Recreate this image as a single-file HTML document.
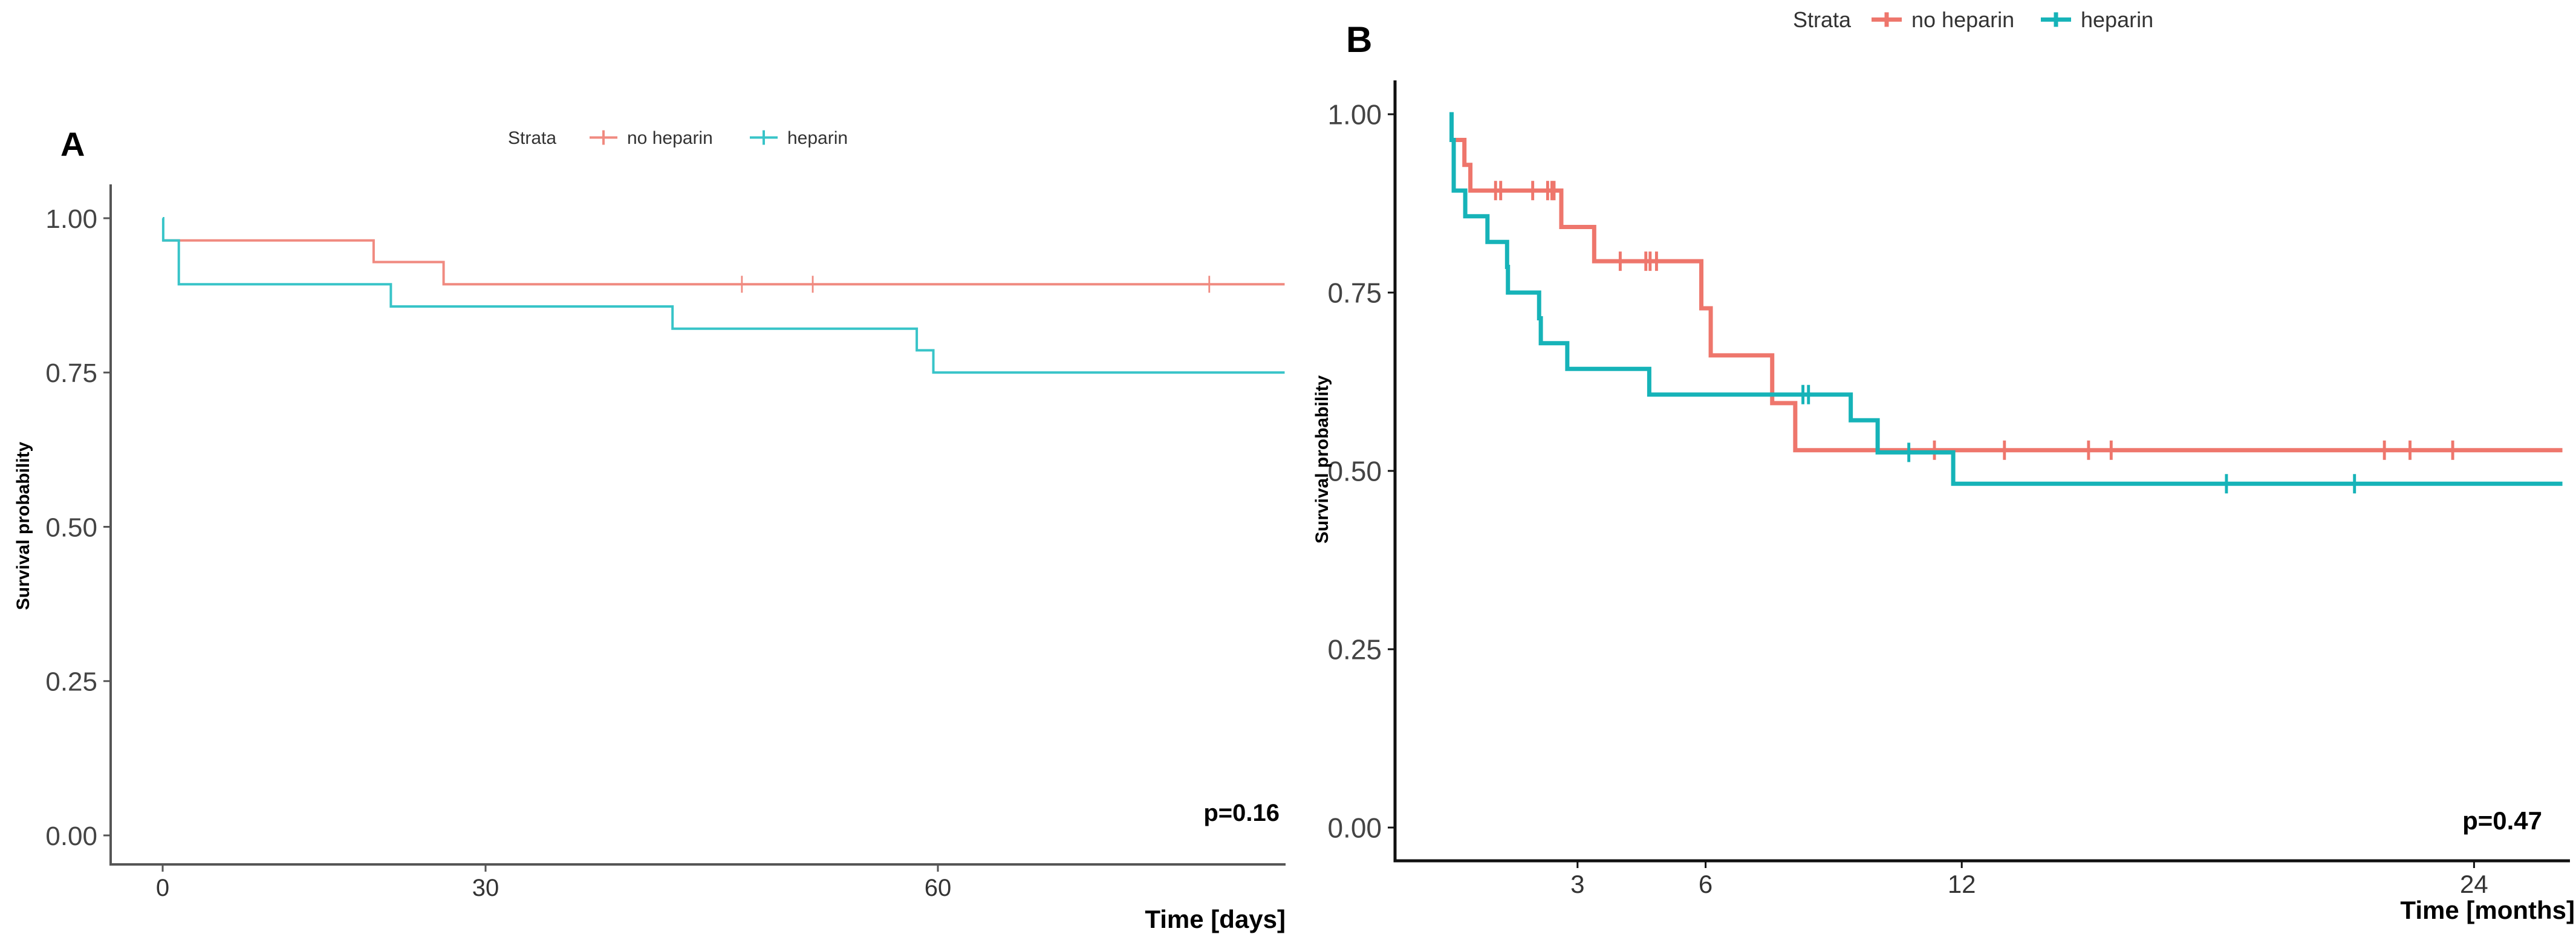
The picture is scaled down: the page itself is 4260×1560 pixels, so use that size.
<!DOCTYPE html>
<html><head><meta charset="utf-8"><style>
html,body{margin:0;padding:0;background:#fff;width:4260px;height:1560px;overflow:hidden}
svg{display:block}
text{font-family:"Liberation Sans Narrow","Liberation Sans",sans-serif}
</style></head><body>
<svg id="chart" width="4260" height="1560" viewBox="0 0 4260 1560" xmlns="http://www.w3.org/2000/svg">
<g id="panelA"></g>
<g id="panelB"></g>
</svg>
<script>
// ---- Panel A data (days) ----
const aTicksX = [0, 30, 60];
const aTicksY = [0, 0.25, 0.5, 0.75, 1.0];
const aTickLabelsY = ["0.00", "0.25", "0.50", "0.75", "1.00"];
const aNoHepTimes = [19.6, 26.1];
const aNoHepSurv = [0.929, 0.893];
const aNoHepCensor = [47.0, 51.7, 78.0];
const aHepTimes = [0.05, 1.5, 21.2, 42.4, 58.6, 59.7];
const aHepSurv = [0.964, 0.893, 0.857, 0.821, 0.786, 0.75];
const aHepCensor = [];
const aStart = [0.964, 1.0];
const aEnd = 83;
// ---- Panel B data (months) ----
const bTicksX = [3, 6, 12, 24];
const bTicksY = [0, 0.25, 0.5, 0.75, 1.0];
const bTickLabelsY = ["0.00", "0.25", "0.50", "0.75", "1.00"];
const bNoHepTimes = [0.35, 0.49, 2.62, 3.39, 5.9, 6.12, 7.56, 8.1];
const bNoHepSurv = [0.929, 0.893, 0.842, 0.794, 0.728, 0.662, 0.595, 0.529];
const bNoHepCensor = [1.08, 1.2, 1.95, 2.3, 2.4, 2.45, 4.0, 4.6, 4.7, 4.85, 11.36, 13.0, 14.97, 15.5, 21.9, 22.5, 23.5];
const bHepTimes = [0.05, 0.1, 0.37, 0.89, 1.35, 1.37, 2.1, 2.14, 2.76, 4.68, 9.4, 10.03, 11.8];
const bHepSurv = [0.964, 0.893, 0.857, 0.821, 0.786, 0.75, 0.714, 0.679, 0.643, 0.607, 0.571, 0.526, 0.482];
const bHepCensor = [8.28, 8.41, 10.76, 18.2, 21.2];
const bStart = [0.964, 1.0];
const bEnd = 26.07;

const NS = "http://www.w3.org/2000/svg";
function mk(parent, tag, attrs, txt){
  const e = document.createElementNS(NS, tag);
  for (const k in attrs) e.setAttribute(k, attrs[k]);
  if (txt !== undefined) e.textContent = txt;
  parent.appendChild(e);
  return e;
}
// axis scales
function axA(t){ return t <= 30 ? 269 + t*(803-269)/30 : 803 + (t-30)*(1551-803)/30; }
function ayA(s){ return 1382 - s*1021; }
function axB(t){ return 2397 + t*70.6; }
function ayB(s){ return 1369 - s*1180; }

function stepPath(times, surv, s0, end, sx, sy){
  let d = "M" + sx(0) + "," + sy(s0);
  let cur = s0;
  for (let i=0;i<times.length;i++){
    d += " H" + sx(times[i]) + " V" + sy(surv[i]);
    cur = surv[i];
  }
  d += " H" + sx(end);
  return d;
}
function survAt(t, times, surv, s0){
  let s = s0;
  for (let i=0;i<times.length;i++) if (times[i] <= t) s = surv[i];
  return s;
}

function drawPanel(g, cfg){
  // axes
  const ax = mk(g,'path',{d:`M${cfg.axX},${cfg.axTop} V${cfg.axY} H${cfg.axRight}`,fill:'none',stroke:cfg.axCol,'stroke-width':cfg.axW});
  
  
  cfg.ticksY.forEach((v,i)=>{
    const y = cfg.sy(v);
    const tk = mk(g,'line',{x1:cfg.axX-12,x2:cfg.axX,y1:y,y2:y,stroke:cfg.axCol,'stroke-width':3});
    
    
    const lb = mk(g,'text',{x:cfg.axX-22,y:y+cfg.yFs*0.36,'text-anchor':'end','font-size':cfg.yFs,fill:'#444'},cfg.tickLabelsY[i]);
    
    
  });
  cfg.ticksX.forEach(v=>{
    const x = cfg.sx(v);
    const tk = mk(g,'line',{x1:x,x2:x,y1:cfg.axY,y2:cfg.axY+12,stroke:cfg.axCol,'stroke-width':3});
    
    
    const lb = mk(g,'text',{x:x,y:cfg.xLabY,'text-anchor':'middle','font-size':cfg.xFs,fill:'#333'},String(v));
    
    
  });
  // series
  const series = [
    {name:'no-heparin', col:cfg.red, times:cfg.nhT, surv:cfg.nhS, cens:cfg.nhC, s0:cfg.start[0]},
    {name:'heparin', col:cfg.teal, times:cfg.hT, surv:cfg.hS, cens:cfg.hC, s0:cfg.start[1]}
  ];
  series.forEach(s=>{
    const p = mk(g,'path',{d:stepPath(s.times,s.surv,s.s0,cfg.end,cfg.sx,cfg.sy),fill:'none',stroke:s.col,'stroke-width':cfg.lw});
    
    
    s.cens.forEach(t=>{
      const x = cfg.sx(t), y = cfg.sy(survAt(t,s.times,s.surv,s.s0));
      const c = mk(g,'path',{d:`M${x},${y-cfg.cs} V${y+cfg.cs} M${x-cfg.cs*0.8},${y} H${x+cfg.cs*0.8}`,stroke:s.col,'stroke-width':cfg.lw*0.7,fill:'none'});
      
      
    });
  });
  // legend
  const L = cfg.leg;
  const lt = mk(g,'text',{x:L.x,y:L.y,'font-size':L.fs,fill:'#333'},'Strata');
  
  
  [[L.x1,cfg.red,'no heparin','legend-no-heparin'],[L.x2,cfg.teal,'heparin','legend-heparin']].forEach(e=>{
    const gg = mk(g,'g',{});
    
    
    mk(gg,'path',{d:`M${e[0]},${L.y-L.fs*0.35} h${L.kw} M${e[0]+L.kw/2},${L.y-L.fs*0.35-12} v24`,stroke:e[1],'stroke-width':cfg.lw,fill:'none'});
    mk(gg,'text',{x:e[0]+L.kw+16,y:L.y,'font-size':L.fs,fill:'#333'},e[2]);
  });
  // titles
  const pl = mk(g,'text',{x:cfg.panelX,y:cfg.panelY,'font-size':cfg.panelFs,'font-weight':'bold',fill:'#000','font-family':'Liberation Sans, sans-serif'},cfg.panel);
  
  
  const yt = mk(g,'text',{transform:`translate(${cfg.ytX},${cfg.ytY}) rotate(-90)`,'text-anchor':'middle','font-size':cfg.ytFs,'font-weight':'bold',fill:'#000','font-family':'Liberation Sans, sans-serif'},'Survival probability');
  
  
  const xt = mk(g,'text',{x:cfg.xtX,y:cfg.xtY,'text-anchor':'end','font-size':cfg.xtFs,'font-weight':'bold',fill:'#000'},cfg.xTitle);
  
  
  const pv = mk(g,'text',{x:cfg.pX,y:cfg.pY,'text-anchor':'end','font-size':cfg.pFs,'font-weight':'bold',fill:'#000'},cfg.pText);
  
  
}

drawPanel(document.getElementById('panelA'),{
  sx:axA, sy:ayA, axX:183, axTop:305, axY:1430, axRight:2126, axCol:'#555', axW:4,
  ticksY:aTicksY, tickLabelsY:aTickLabelsY, ticksX:aTicksX, yFs:44, xFs:40, xLabY:1482,
  red:'#F08A80', teal:'#38C4C8', lw:4, cs:14,
  nhT:aNoHepTimes, nhS:aNoHepSurv, nhC:aNoHepCensor, hT:aHepTimes, hS:aHepSurv, hC:aHepCensor, start:aStart, end:aEnd,
  leg:{x:840,y:238,fs:30,x1:975,x2:1240,kw:46},
  panel:'A', panelX:100, panelY:258, panelFs:56,
  ytX:48, ytY:870, ytFs:30, xTitle:'Time [days]', xtX:2126, xtY:1535, xtFs:42,
  pX:2116, pY:1358, pFs:40, pText:'p=0.16'
});
drawPanel(document.getElementById('panelB'),{
  sx:axB, sy:ayB, axX:2307, axTop:133, axY:1424, axRight:4250, axCol:'#111', axW:5,
  ticksY:bTicksY, tickLabelsY:bTickLabelsY, ticksX:bTicksX, yFs:46, xFs:42, xLabY:1477,
  red:'#EE766C', teal:'#16B3B8', lw:7, cs:16,
  nhT:bNoHepTimes, nhS:bNoHepSurv, nhC:bNoHepCensor, hT:bHepTimes, hS:bHepSurv, hC:bHepCensor, start:bStart, end:bEnd,
  leg:{x:2965,y:45,fs:36,x1:3095,x2:3375,kw:50},
  panel:'B', panelX:2226, panelY:86, panelFs:60,
  ytX:2196, ytY:760, ytFs:30, xTitle:'Time [months]', xtX:4258, xtY:1520, xtFs:42,
  pX:4204, pY:1372, pFs:42, pText:'p=0.47'
});
</script>
</body></html>
